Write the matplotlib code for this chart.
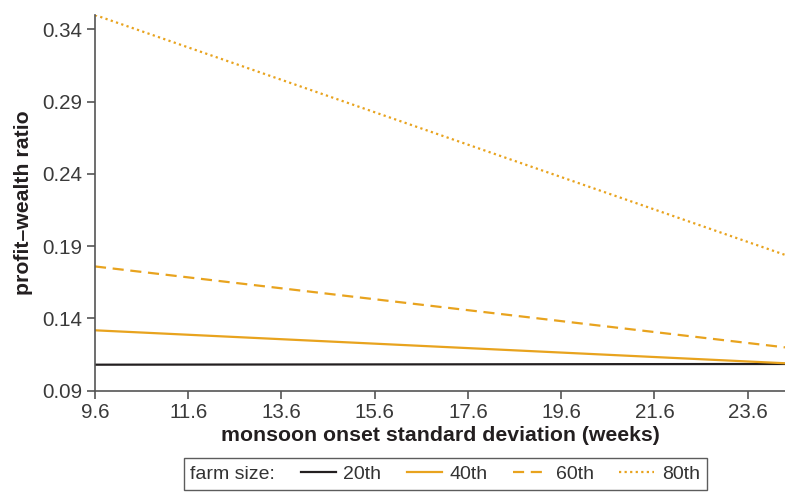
import numpy as np
import matplotlib
matplotlib.use("Agg")
from matplotlib import pyplot as plt

# monsoon onset std dev (weeks) at the ends of the plotted range
x = np.array([9.6, 24.4])

# profit-wealth ratio by farm size percentile
p20 = np.array([0.108, 0.1085])
p40 = np.array([0.1318, 0.109])
p60 = np.array([0.176, 0.120])
p80 = np.array([0.350, 0.184])

xticks = [9.6, 11.6, 13.6, 15.6, 17.6, 19.6, 21.6, 23.6]
yticks = [0.09, 0.14, 0.19, 0.24, 0.29, 0.34]

orange = '#E8A31E'
dark = '#231F20'
axcol = '#555555'

plt.rcParams['font.family'] = ['Liberation Sans', 'DejaVu Sans']

fig = plt.figure(figsize=(7.85, 4.95), dpi=100)
ax = fig.add_axes([0.121, 0.2107, 0.879, 0.759])

ax.plot(x, p20, color=dark, lw=1.6, label='20th')
ax.plot(x, p40, color=orange, lw=1.6, label='40th')
ax.plot(x, p60, color=orange, lw=1.6, ls=(0, (5, 3)), label='60th')
ax.plot(x, p80, color=orange, lw=1.6, ls=(0, (1, 1.5)), label='80th')

ax.set_xlim(9.6, 24.4)
ax.set_ylim(0.09, 0.35)
ax.set_xticks(xticks)
ax.set_xticklabels([f'{v:.1f}' for v in xticks])
ax.set_yticks(yticks)
ax.set_yticklabels([f'{v:.2f}' for v in yticks])

for s in ['top', 'right']:
    ax.spines[s].set_visible(False)
for s in ['left', 'bottom']:
    ax.spines[s].set_color(axcol)
    ax.spines[s].set_linewidth(1.2)
ax.tick_params(direction='out', length=6, width=1.2, color=axcol,
               labelsize=14.8, labelcolor='#3a3a3a', pad=3)

ax.set_xlabel('monsoon onset standard deviation (weeks)', fontsize=15.3,
              fontweight='bold', color='#231F20', labelpad=3)
ax.set_ylabel('profit\u2013wealth ratio', fontsize=15.3, fontweight='bold',
              color='#231F20', labelpad=7)

leg = fig.legend(loc='upper center', bbox_to_anchor=(0.567, 0.0935), ncol=4,
                 title='farm size:', fontsize=14, title_fontsize=14,
                 frameon=True, fancybox=False, edgecolor='#333333',
                 handlelength=1.8, handletextpad=0.4, columnspacing=1.3,
                 borderpad=0.35)
leg.get_frame().set_linewidth(1.0)
for t in leg.get_texts():
    t.set_color('#333333')
leg.get_title().set_color('#333333')
# put the title inline, left of the entries
c = leg.get_children()[0]
title_box = c.get_children()[0]
hpack = c.get_children()[1]
c._children = [hpack]
hpack._children = [title_box] + hpack.get_children()

fig.savefig('out.png', dpi=100)
